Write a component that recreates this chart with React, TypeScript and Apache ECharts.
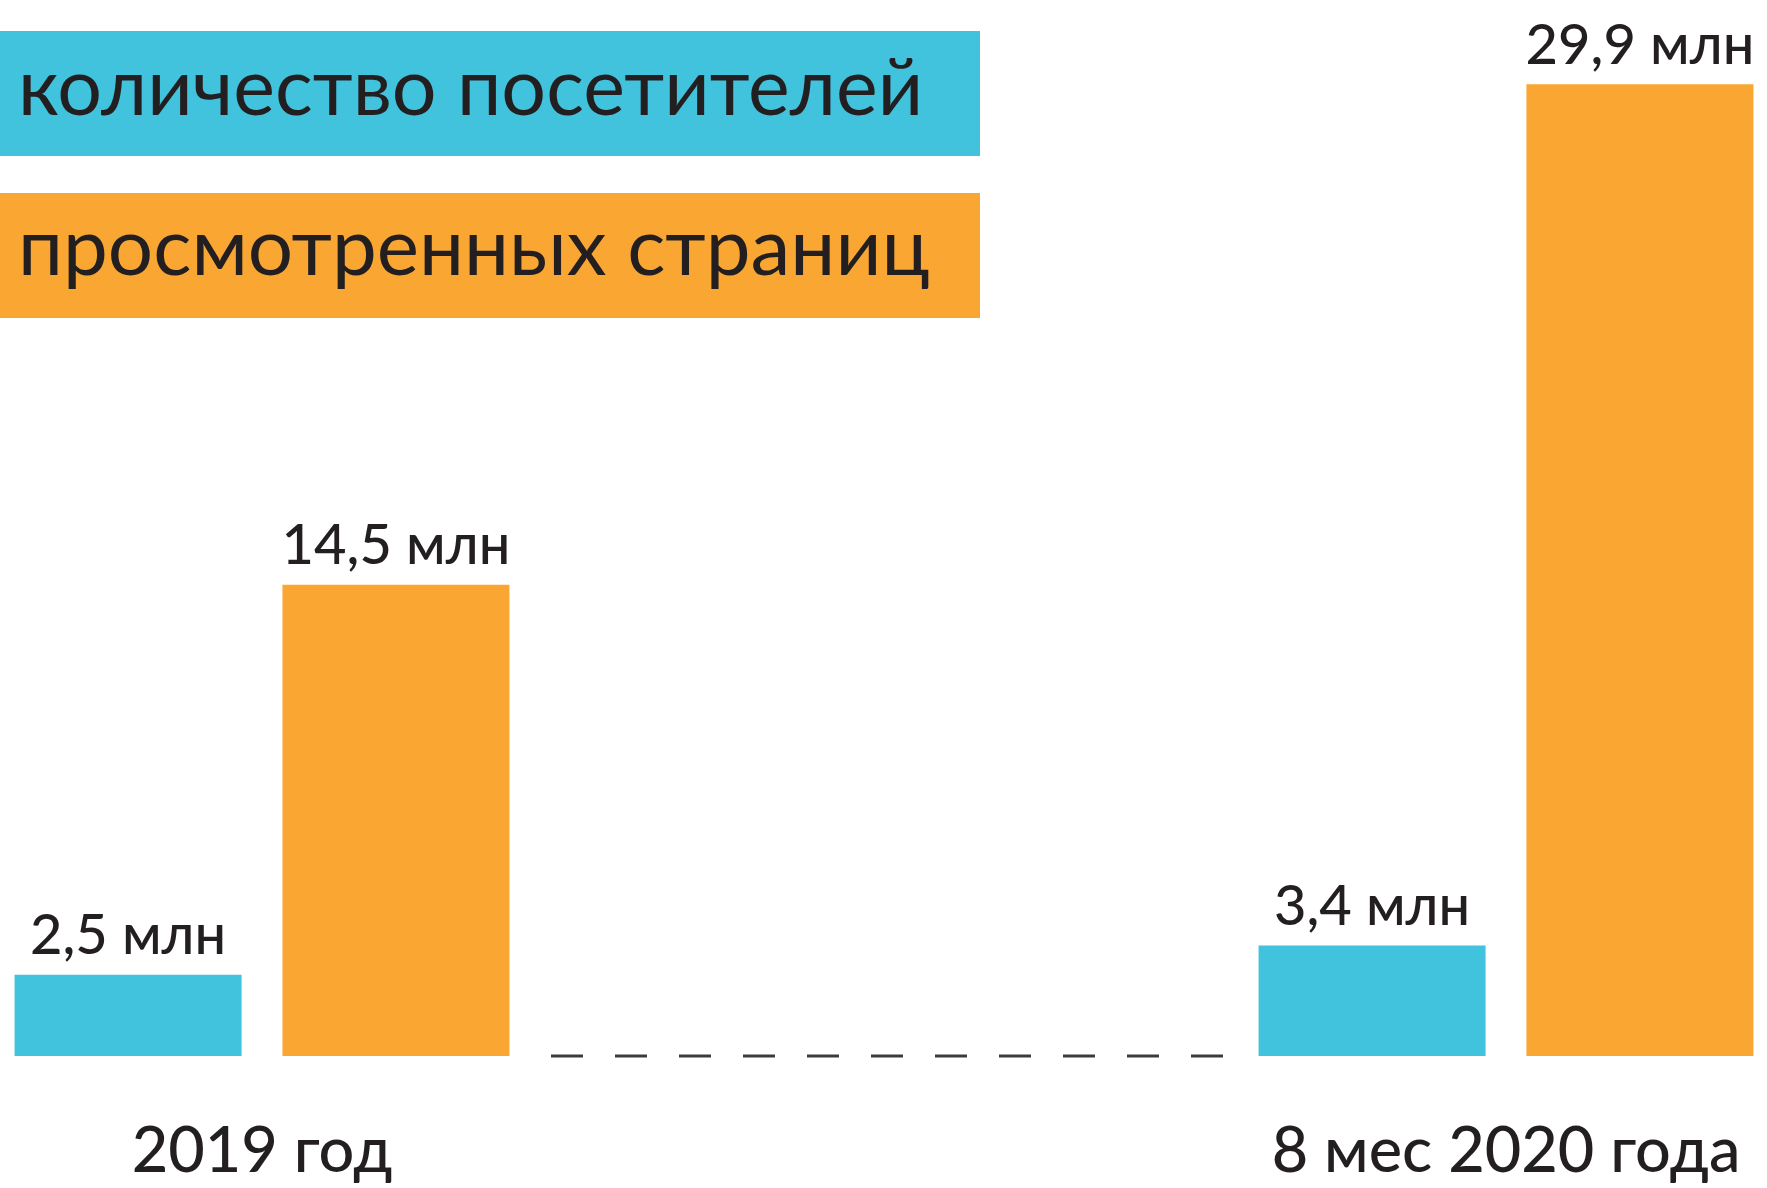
import React, { useEffect, useRef } from "react";
import * as echarts from "echarts";

const categories = ["2019 год", "8 мес 2020 года"];
const seriesNames = ["количество посетителей", "просмотренных страниц"];
const visitors = [2.5, 3.4];
const pageViews = [14.5, 29.9];
const unit = "млн";

const CYAN = "#41C2DD";
const ORANGE = "#F9A732";
const INK = "#231F20";
const FONT = "Lato, 'Noto Sans', sans-serif";

const fmt = (v: number) => `${String(v).replace(".", ",")} ${unit}`;

export default function App() {
  const ref = useRef<HTMLDivElement>(null);
  useEffect(() => {
    document.body.style.margin = "0";
    const chart = echarts.init(ref.current!, null, { renderer: "svg" });
    const gridTop = 81;
    const gridBottom = 132;
    const grids = [
      { left: 14, width: 496, top: gridTop, bottom: gridBottom },
      { left: 1258, width: 496, top: gridTop, bottom: gridBottom },
    ];
    const labelStyle = {
      show: true,
      position: "top" as const,
      distance: 14,
      fontFamily: FONT,
      fontSize: 56,
      fontWeight: 500 as any,
      color: INK,
      formatter: (p: any) => fmt(p.value),
    };
    const series: any[] = [];
    categories.forEach((_, i) => {
      series.push({
        type: "bar",
        name: seriesNames[0],
        xAxisIndex: i,
        yAxisIndex: i,
        data: [visitors[i]],
        barWidth: 227,
        barGap: "18%",
        itemStyle: { color: CYAN },
        label: labelStyle,
      });
      series.push({
        type: "bar",
        name: seriesNames[1],
        xAxisIndex: i,
        yAxisIndex: i,
        data: [pageViews[i]],
        barWidth: 227,
        barGap: "18%",
        itemStyle: { color: ORANGE },
        label: labelStyle,
      });
    });
    chart.setOption({
      animation: false,
      grid: grids,
      xAxis: categories.map((c, i) => ({
        type: "category",
        gridIndex: i,
        data: [c],
        axisLine: { show: false },
        axisTick: { show: false },
        axisLabel: {
          margin: 60,
          fontFamily: FONT,
          fontSize: 63,
          lineHeight: 63,
          fontWeight: 500,
          color: INK,
        },
      })),
      yAxis: categories.map((_, i) => ({
        type: "value",
        gridIndex: i,
        min: 0,
        max: 30,
        show: false,
        splitLine: { show: false },
      })),
      series,
      graphic: [
        {
          type: "rect",
          shape: { x: 0, y: 31, width: 980, height: 125 },
          style: { fill: CYAN },
        },
        {
          type: "text",
          x: 18,
          y: 84,
          style: {
            text: seriesNames[0],
            font: `normal 79px ${FONT}`,
            fill: INK,
            verticalAlign: "middle",
          },
        },
        {
          type: "rect",
          shape: { x: 0, y: 193, width: 980, height: 125 },
          style: { fill: ORANGE },
        },
        {
          type: "text",
          x: 18,
          y: 244,
          style: {
            text: seriesNames[1],
            font: `normal 80px ${FONT}`,
            fill: INK,
            verticalAlign: "middle",
          },
        },
        {
          type: "line",
          shape: { x1: 551, y1: 1056, x2: 1223, y2: 1056 },
          style: { stroke: "#3c3c3c", lineWidth: 3, lineDash: [32, 32] },
        },
      ],
    });
    return () => chart.dispose();
  }, []);
  return <div ref={ref} style={{ width: 1767, height: 1188 }} />;
}
